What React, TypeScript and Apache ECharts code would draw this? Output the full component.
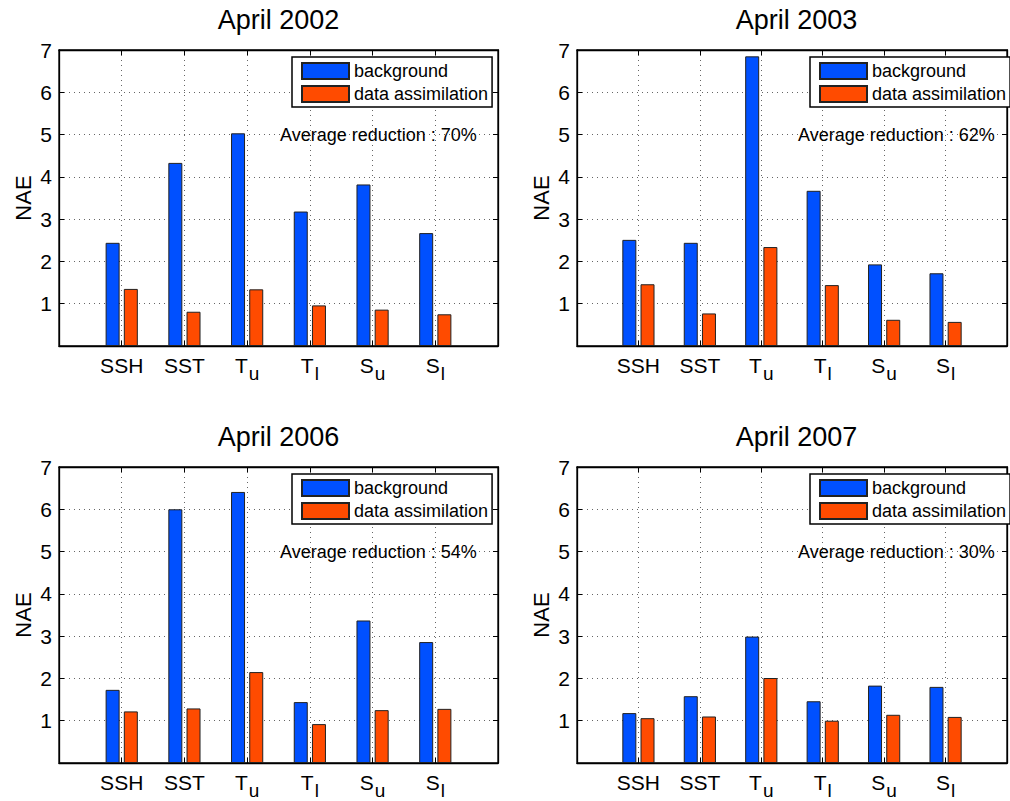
import React, { useEffect, useRef } from "react";
import * as echarts from "echarts";

// ---- data ----
const catMain = ["SSH", "SST", "T", "T", "S", "S"];
const catSub = ["", "", "u", "l", "u", "l"];
const panelTitles = ["April 2002", "April 2003", "April 2006", "April 2007"];
const reductions = ["70%", "62%", "54%", "30%"];
const seriesNames = ["background", "data assimilation"];

const bg2002 = [2.44, 4.33, 5.03, 3.18, 3.82, 2.67];
const da2002 = [1.35, 0.81, 1.34, 0.96, 0.86, 0.75];
const bg2003 = [2.51, 2.44, 6.85, 3.67, 1.93, 1.72];
const da2003 = [1.46, 0.77, 2.34, 1.44, 0.62, 0.57];
const bg2006 = [1.73, 6.0, 6.41, 1.44, 3.37, 2.86];
const da2006 = [1.22, 1.29, 2.15, 0.92, 1.25, 1.28];
const bg2007 = [1.18, 1.58, 2.99, 1.46, 1.83, 1.8];
const da2007 = [1.06, 1.1, 2.01, 1.0, 1.14, 1.09];

const yMin = 0;
const yMax = 7;
const yInterval = 1;

const bgSets = [bg2002, bg2003, bg2006, bg2007];
const daSets = [da2002, da2003, da2006, da2007];

// ---- layout / style ----
const FONT = "Liberation Sans, Arial, Helvetica, sans-serif";
const BLUE = "#0050FF";
const ORANGE = "#FF4B00";
const pos = [
  { left: 59, top: 50 },
  { left: 577, top: 50 },
  { left: 59, top: 467 },
  { left: 577, top: 467 },
];
const GW = 439;
const GH = 296;

function buildOption() {
  const cats = ["", ...catMain.map((m, i) => m + catSub[i]), " "];
  const grid: any[] = [];
  const xAxis: any[] = [];
  const yAxis: any[] = [];
  const series: any[] = [];
  const legend: any[] = [];
  const graphic: any[] = [];
  const axisLine = { show: true, onZero: false, lineStyle: { color: "#000", width: 1.3 } };
  const tick = { show: true, inside: true, length: 5, lineStyle: { color: "#000" } };

  pos.forEach((p, i) => {
    grid.push({
      left: p.left,
      top: p.top,
      width: GW,
      height: GH,
      show: true,
      borderColor: "#000",
      borderWidth: 1.3,
      backgroundColor: "transparent",
    });
    // bottom x
    xAxis.push({
      type: "category",
      gridIndex: i,
      data: cats,
      boundaryGap: false,
      position: "bottom",
      axisLine,
      axisTick: { ...tick, interval: 0 },
      splitLine: {
        show: true,
        interval: 0,
        lineStyle: { color: "#666", type: [1, 4], width: 1 },
      },
      axisLabel: {
        show: true,
        interval: 0,
        margin: 9,
        color: "#000",
        formatter: (_v: string, idx: number) => {
          if (idx < 1 || idx > catMain.length) return "";
          const m = catMain[idx - 1];
          const s = catSub[idx - 1];
          return s ? `{m|${m}}{s|${s}}` : `{m|${m}}`;
        },
        rich: {
          m: { fontSize: 21, fontFamily: FONT, color: "#000", padding: [0, 0, 8, 0] },
          s: { fontSize: 19, fontFamily: FONT, color: "#000", padding: [8, 0, 0, 1] },
        },
      },
    });
    // top x (box + ticks)
    xAxis.push({
      type: "category",
      gridIndex: i,
      data: cats,
      boundaryGap: false,
      position: "top",
      axisLine,
      axisTick: { ...tick, interval: 0 },
      axisLabel: { show: false },
      splitLine: { show: false },
    });
    // left y
    yAxis.push({
      type: "value",
      gridIndex: i,
      min: yMin,
      max: yMax,
      interval: yInterval,
      position: "left",
      name: "NAE",
      nameLocation: "middle",
      nameGap: 25,
      nameTextStyle: { fontSize: 22, fontFamily: FONT, color: "#000" },
      axisLine,
      axisTick: tick,
      splitLine: {
        show: true,
        lineStyle: { color: "#666", type: [1, 4], width: 1 },
      },
      axisLabel: {
        show: true,
        margin: 7,
        fontSize: 21,
        fontFamily: FONT,
        color: "#000",
        formatter: (v: number) => (v === 0 ? "" : String(v)),
      },
    });
    // right y
    yAxis.push({
      type: "value",
      gridIndex: i,
      min: yMin,
      max: yMax,
      interval: yInterval,
      position: "right",
      axisLine,
      axisTick: tick,
      splitLine: { show: false },
      axisLabel: { show: false },
    });

    const pad = (arr: number[]) => ["-", ...arr, "-"];
    series.push({
      type: "bar",
      name: seriesNames[0],
      xAxisIndex: 2 * i,
      yAxisIndex: 2 * i,
      data: pad(bgSets[i]),
      barWidth: 14,
      barGap: "30%",
      itemStyle: { color: BLUE, borderColor: "#222", borderWidth: 1 },
      z: 3,
    });
    series.push({
      type: "bar",
      name: seriesNames[1],
      xAxisIndex: 2 * i,
      yAxisIndex: 2 * i,
      data: pad(daSets[i]),
      barWidth: 14,
      barGap: "30%",
      itemStyle: { color: ORANGE, borderColor: "#222", borderWidth: 1 },
      z: 3,
    });

    legend.push({
      data: seriesNames,
      orient: "vertical",
      left: p.left + 233,
      top: p.top + 7,
      padding: [5, 4, 4, 9],
      itemGap: 5,
      itemWidth: 47,
      itemHeight: 16,
      icon: "rect",
      backgroundColor: "#fff",
      borderColor: "#000",
      borderWidth: 1.5,
      borderRadius: 0,
      selectedMode: false,
      textStyle: { fontSize: 18, fontFamily: FONT, color: "#000", padding: [0, 0, 0, 0] },
      z: 10,
    });

    graphic.push({
      type: "text",
      x: p.left + GW / 2,
      y: p.top - 44,
      style: {
        text: panelTitles[i],
        font: `27px ${FONT}`,
        fill: "#000",
        textAlign: "center",
        textVerticalAlign: "top",
      },
    });
    graphic.push({
      type: "text",
      x: p.left + 221,
      y: p.top + 85,
      style: {
        text: `Average reduction : ${reductions[i]}`,
        font: `18px ${FONT}`,
        fill: "#000",
        textAlign: "left",
        textVerticalAlign: "middle",
      },
      z: 20,
    });
  });

  return {
    animation: false,
    backgroundColor: "#fff",
    textStyle: { fontFamily: FONT },
    grid,
    xAxis,
    yAxis,
    series,
    legend,
    graphic,
  };
}

export default function App() {
  const ref = useRef<HTMLDivElement>(null);
  useEffect(() => {
    if (!ref.current) return;
    const chart = echarts.init(ref.current, undefined, { renderer: "svg" });
    chart.setOption(buildOption() as any);
    return () => chart.dispose();
  }, []);
  return (
    <div
      ref={ref}
      style={{ position: "fixed", left: 0, top: 0, width: 1010, height: 801, background: "#fff" }}
    />
  );
}
